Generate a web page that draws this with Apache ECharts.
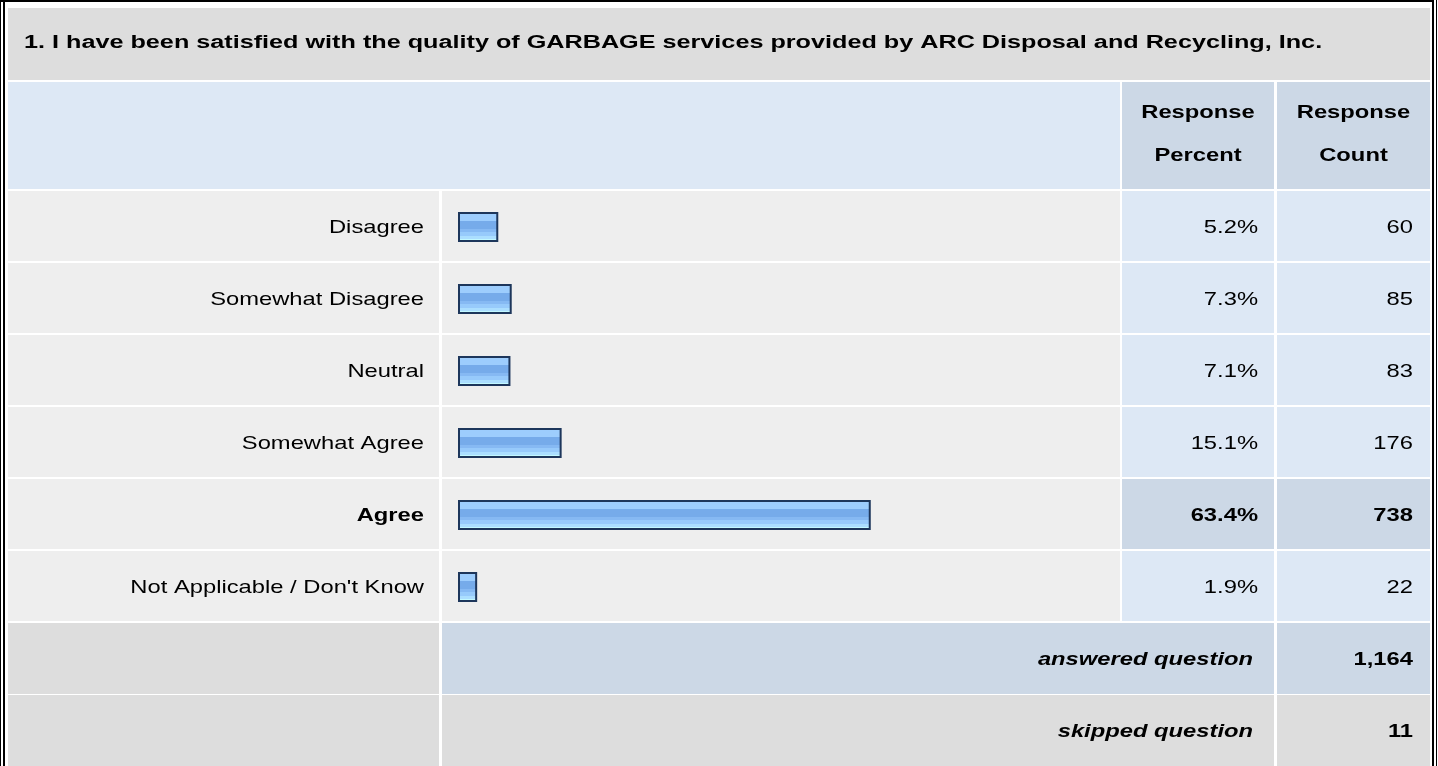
<!DOCTYPE html>
<html><head><meta charset="utf-8">
<script src="https://cdn.jsdelivr.net/npm/echarts@6/dist/echarts.min.js"></script>
<style>html,body{margin:0;padding:0;background:#fff;}#c{width:1438px;height:766px;}</style>
</head><body><div id="c"></div>
<script>
const questionTitle = "1. I have been satisfied with the quality of GARBAGE services provided by ARC Disposal and Recycling, Inc.";
const categories = ["Disagree", "Somewhat Disagree", "Neutral", "Somewhat Agree", "Agree", "Not Applicable / Don't Know"];
const responsePercent = [5.2, 7.3, 7.1, 15.1, 63.4, 1.9];
const responseCount = [60, 85, 83, 176, 738, 22];
const headerLabels = ["Response\nPercent", "Response\nCount"];
const summaryLabels = ["answered question", "skipped question"];
const summaryCounts = [1164, 11];

const FONT = "'Liberation Sans', Arial, Helvetica, sans-serif";
const FS = 19;      // body font size
const KX = 1.25;    // horizontal text stretch seen in the reference
const TFS = 18, TKX = 1.40;
const C = { x0: 8, labelR: 439, barL: 442, barR: 1120, pctL: 1122, pctR: 1274, cntL: 1277, cntR: 1430 };
const GRAY = '#dddddd', ROW = '#eeeeee', LBLUE = '#dde8f5', MBLUE = '#ccd8e6';
const maxIdx = responseCount.indexOf(Math.max(...responseCount));

const barFill = {
  type: 'linear', x: 0, y: 0, x2: 0, y2: 1,
  colorStops: [
    { offset: 0, color: '#9dcdfd' }, { offset: 0.3, color: '#9dcdfd' },
    { offset: 0.3, color: '#76abea' }, { offset: 0.57, color: '#76abea' },
    { offset: 0.57, color: '#86b9f3' }, { offset: 0.68, color: '#86b9f3' },
    { offset: 0.68, color: '#97cafb' }, { offset: 0.8, color: '#97cafb' },
    { offset: 0.8, color: '#abdeff' }, { offset: 0.9, color: '#abdeff' },
    { offset: 0.9, color: '#c2f8ff' }, { offset: 1, color: '#c2f8ff' }
  ]
};

const rowData = categories.map((c, i) => [responsePercent[i], c, responseCount[i]]);

function fmt(n) { return n.toLocaleString('en-US'); }
function txt(x, y, text, font, align, extra) {
  return Object.assign({
    type: 'text', x: x, y: y, scaleX: KX,
    style: { text: text, font: font, fill: '#000', align: align, verticalAlign: 'middle' }
  }, extra || {});
}

const graphics = [];
// outer frame
graphics.push({ type: 'rect', shape: { x: 0, y: 0, width: 1434, height: 2 }, style: { fill: '#000' }, z: 100 });
graphics.push({ type: 'rect', shape: { x: 0, y: 0, width: 1, height: 766 }, style: { fill: '#000' }, z: 100 });
graphics.push({ type: 'rect', shape: { x: 3, y: 0, width: 2, height: 766 }, style: { fill: '#000' }, z: 100 });
graphics.push({ type: 'rect', shape: { x: 1432, y: 0, width: 2, height: 766 }, style: { fill: '#000' }, z: 100 });
graphics.push({ type: 'rect', shape: { x: 1436, y: 0, width: 1, height: 766 }, style: { fill: '#000' }, z: 100 });
// title row
graphics.push({ type: 'rect', shape: { x: C.x0, y: 8, width: C.cntR - C.x0, height: 72 }, style: { fill: GRAY }, z: 0 });
graphics.push({ type: 'text', x: 24, y: 43, scaleX: TKX, style: { text: questionTitle, font: 'bold ' + TFS + 'px ' + FONT, fill: '#000', verticalAlign: 'middle' }, z: 1 });
// header row
graphics.push({ type: 'rect', shape: { x: C.x0, y: 82, width: C.barR - C.x0, height: 107 }, style: { fill: LBLUE }, z: 0 });
graphics.push({ type: 'rect', shape: { x: C.pctL, y: 82, width: C.pctR - C.pctL, height: 107 }, style: { fill: MBLUE }, z: 0 });
graphics.push({ type: 'rect', shape: { x: C.cntL, y: 82, width: C.cntR - C.cntL, height: 107 }, style: { fill: MBLUE }, z: 0 });
graphics.push(txt((C.pctL + C.pctR) / 2, 134, headerLabels[0], 'bold ' + FS + 'px ' + FONT, 'center', { z: 1 }));
graphics.push(txt((C.cntL + C.cntR) / 2, 134, headerLabels[1], 'bold ' + FS + 'px ' + FONT, 'center', { z: 1 }));
graphics[graphics.length - 1].style.lineHeight = 43;
graphics[graphics.length - 2].style.lineHeight = 43;
// summary rows
const sumTop = [623, 695];
const sumFill = [MBLUE, GRAY];
for (let k = 0; k < 2; k++) {
  const y = sumTop[k], h = 71;
  graphics.push({ type: 'rect', shape: { x: C.x0, y, width: C.labelR - C.x0, height: h }, style: { fill: GRAY }, z: 0 });
  graphics.push({ type: 'rect', shape: { x: C.barL, y, width: C.pctR - C.barL, height: h }, style: { fill: sumFill[k] }, z: 0 });
  graphics.push({ type: 'rect', shape: { x: C.cntL, y, width: C.cntR - C.cntL, height: h }, style: { fill: sumFill[k] }, z: 0 });
  graphics.push(txt(C.pctR - 21, y + 37, summaryLabels[k], 'italic bold ' + FS + 'px ' + FONT, 'right', { z: 1 }));
  graphics.push(txt(C.cntR - 17, y + 37, fmt(summaryCounts[k]), 'bold ' + FS + 'px ' + FONT, 'right', { z: 1 }));
}

const option = {
  animation: false,
  backgroundColor: '#ffffff',
  graphic: graphics,
  grid: { left: 458, top: 190, width: 640, height: 432, containLabel: false },
  xAxis: { type: 'value', min: 0, max: 100, show: false },
  yAxis: {
    type: 'category', data: categories, inverse: true,
    axisLine: { show: false }, axisTick: { show: false }, splitLine: { show: false },
    axisLabel: { show: false }
  },
  series: [
    {
      type: 'custom', name: 'cells', z: 1, silent: true,
      encode: { x: 0, y: 1 },
      data: rowData,
      renderItem: (params, api) => {
        const i = params.dataIndex;
        const c = api.coord([0, api.value(1)]);
        const band = api.size([0, 1])[1];
        const y0 = c[1] - band / 2 + 1, h = band - 2;
        const hi = i === maxIdx;
        const vf = hi ? MBLUE : LBLUE;
        const f = (hi ? 'bold ' : '') + FS + 'px ' + FONT;
        const ty = c[1] + 2;
        return {
          type: 'group', children: [
            { type: 'rect', shape: { x: C.x0, y: y0, width: C.labelR - C.x0, height: h }, style: { fill: ROW } },
            { type: 'rect', shape: { x: C.barL, y: y0, width: C.barR - C.barL, height: h }, style: { fill: ROW } },
            { type: 'rect', shape: { x: C.pctL, y: y0, width: C.pctR - C.pctL, height: h }, style: { fill: vf } },
            { type: 'rect', shape: { x: C.cntL, y: y0, width: C.cntR - C.cntL, height: h }, style: { fill: vf } },
            txt(C.labelR - 15, ty, categories[i], f, 'right'),
            txt(C.pctR - 16, ty, api.value(0).toFixed(1) + '%', f, 'right'),
            txt(C.cntR - 17, ty, fmt(api.value(2)), f, 'right')
          ]
        };
      }
    },
    {
      type: 'custom', name: 'Response Percent', z: 3, silent: true,
      encode: { x: 0, y: 1 },
      data: rowData,
      renderItem: (params, api) => {
        const s = api.coord([0, api.value(1)]);
        const e = api.coord([api.value(0), api.value(1)]);
        return {
          type: 'rect',
          shape: { x: s[0] + 1, y: s[1] - 13, width: e[0] - s[0] + 5, height: 28 },
          style: { fill: barFill, stroke: '#1d365b', lineWidth: 2 }
        };
      }
    }
  ]
};

const chart = echarts.init(document.getElementById('c'), null, { renderer: 'canvas' });
chart.setOption(option);
</script>
</body></html>
